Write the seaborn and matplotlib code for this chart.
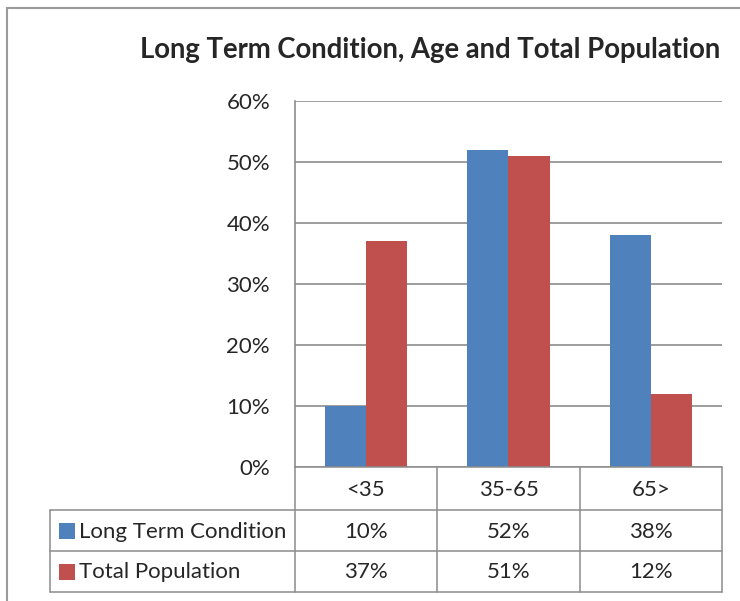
import matplotlib
matplotlib.use("Agg")
import matplotlib.pyplot as plt
from matplotlib.patches import Rectangle
from matplotlib.lines import Line2D
import pandas as pd
import seaborn as sns

# data
age_groups = ["<35", "35-65", "65>"]
series_names = ["Long Term Condition", "Total Population"]
long_term_condition = [10, 52, 38]
total_population = [37, 51, 12]
y_ticks = [0, 10, 20, 30, 40, 50, 60]

colors = ["#4F81BD", "#C0504D"]
grid_gray = "#8C8C8C"

df = pd.DataFrame({
    "age": age_groups * 2,
    "series": [series_names[0]] * 3 + [series_names[1]] * 3,
    "value": long_term_condition + total_population,
})

sns.set_style("white")
plt.rcParams["font.family"] = ["Lato", "DejaVu Sans"]

W, H = 740, 601
fig = plt.figure(figsize=(W / 100, H / 100), dpi=100)


def fx(x):
    return x / W


def fy(y):
    return 1 - y / H


fs = 16

# plot area
left, right, top, bottom = 295, 722, 101, 467
ax = fig.add_axes([fx(left), fy(bottom), (right - left) / W, (bottom - top) / H])
sns.barplot(data=df, x="age", y="value", hue="series", order=age_groups,
            hue_order=series_names, palette=colors, width=0.58, ax=ax,
            legend=False, saturation=1, linewidth=0)
ax.set_ylim(0, 60)
ax.set_xlim(-0.5, 2.5)
ax.set_yticks(y_ticks)
ax.set_yticklabels([f"{t}%" for t in y_ticks], fontsize=fs)
ax.set_xticks([])
ax.set_xlabel("")
ax.set_ylabel("")
ax.tick_params(axis="y", length=0, pad=18)
for t in y_ticks:
    ax.axhline(t, color=grid_gray, lw=1.2, zorder=0)
for s in ["top", "right", "bottom"]:
    ax.spines[s].set_visible(False)
ax.spines["left"].set_color(grid_gray)
ax.spines["left"].set_linewidth(1.2)

# title
fig.text(fx(430), fy(50), "Long Term Condition, Age and Total Population",
         ha="center", va="center", fontsize=19.8, fontweight="bold")

# outer chart frame
fig.add_artist(Rectangle((fx(7), fy(640)), fx(760), fy(8) - fy(640),
                         transform=fig.transFigure, fill=False,
                         edgecolor="#9A9A9A", lw=1.5))

# data table
cols = [295, 437, 580, 722]
rows = [467, 510, 551, 592]
tab_left = 50
lw = 1.1
lc = grid_gray


def hline(x0, x1, y):
    fig.add_artist(Line2D([fx(x0), fx(x1)], [fy(y), fy(y)],
                          transform=fig.transFigure, color=lc, lw=lw))


def vline(x, y0, y1):
    fig.add_artist(Line2D([fx(x), fx(x)], [fy(y0), fy(y1)],
                          transform=fig.transFigure, color=lc, lw=lw))


hline(cols[0], cols[-1], rows[0])
for y in rows[1:]:
    hline(tab_left, cols[-1], y)
for x in cols:
    vline(x, rows[0], rows[-1])
vline(tab_left, rows[1], rows[-1])

for i, g in enumerate(age_groups):
    cx = (cols[i] + cols[i + 1]) / 2
    fig.text(fx(cx), fy((rows[0] + rows[1]) / 2 + 1), g, ha="center", va="center", fontsize=fs)

for r, (name, vals, c) in enumerate(zip(series_names, [long_term_condition, total_population], colors)):
    cy = (rows[r + 1] + rows[r + 2]) / 2
    fig.add_artist(Rectangle((fx(59), fy(cy + 8)), 16 / W, 16 / H,
                             transform=fig.transFigure, color=c, lw=0))
    fig.text(fx(79), fy(cy + 1), name, ha="left", va="center", fontsize=fs)
    for i, v in enumerate(vals):
        cx = (cols[i] + cols[i + 1]) / 2
        fig.text(fx(cx), fy(cy + 1), f"{v}%", ha="center", va="center", fontsize=fs)

fig.savefig("out.png", dpi=100)
